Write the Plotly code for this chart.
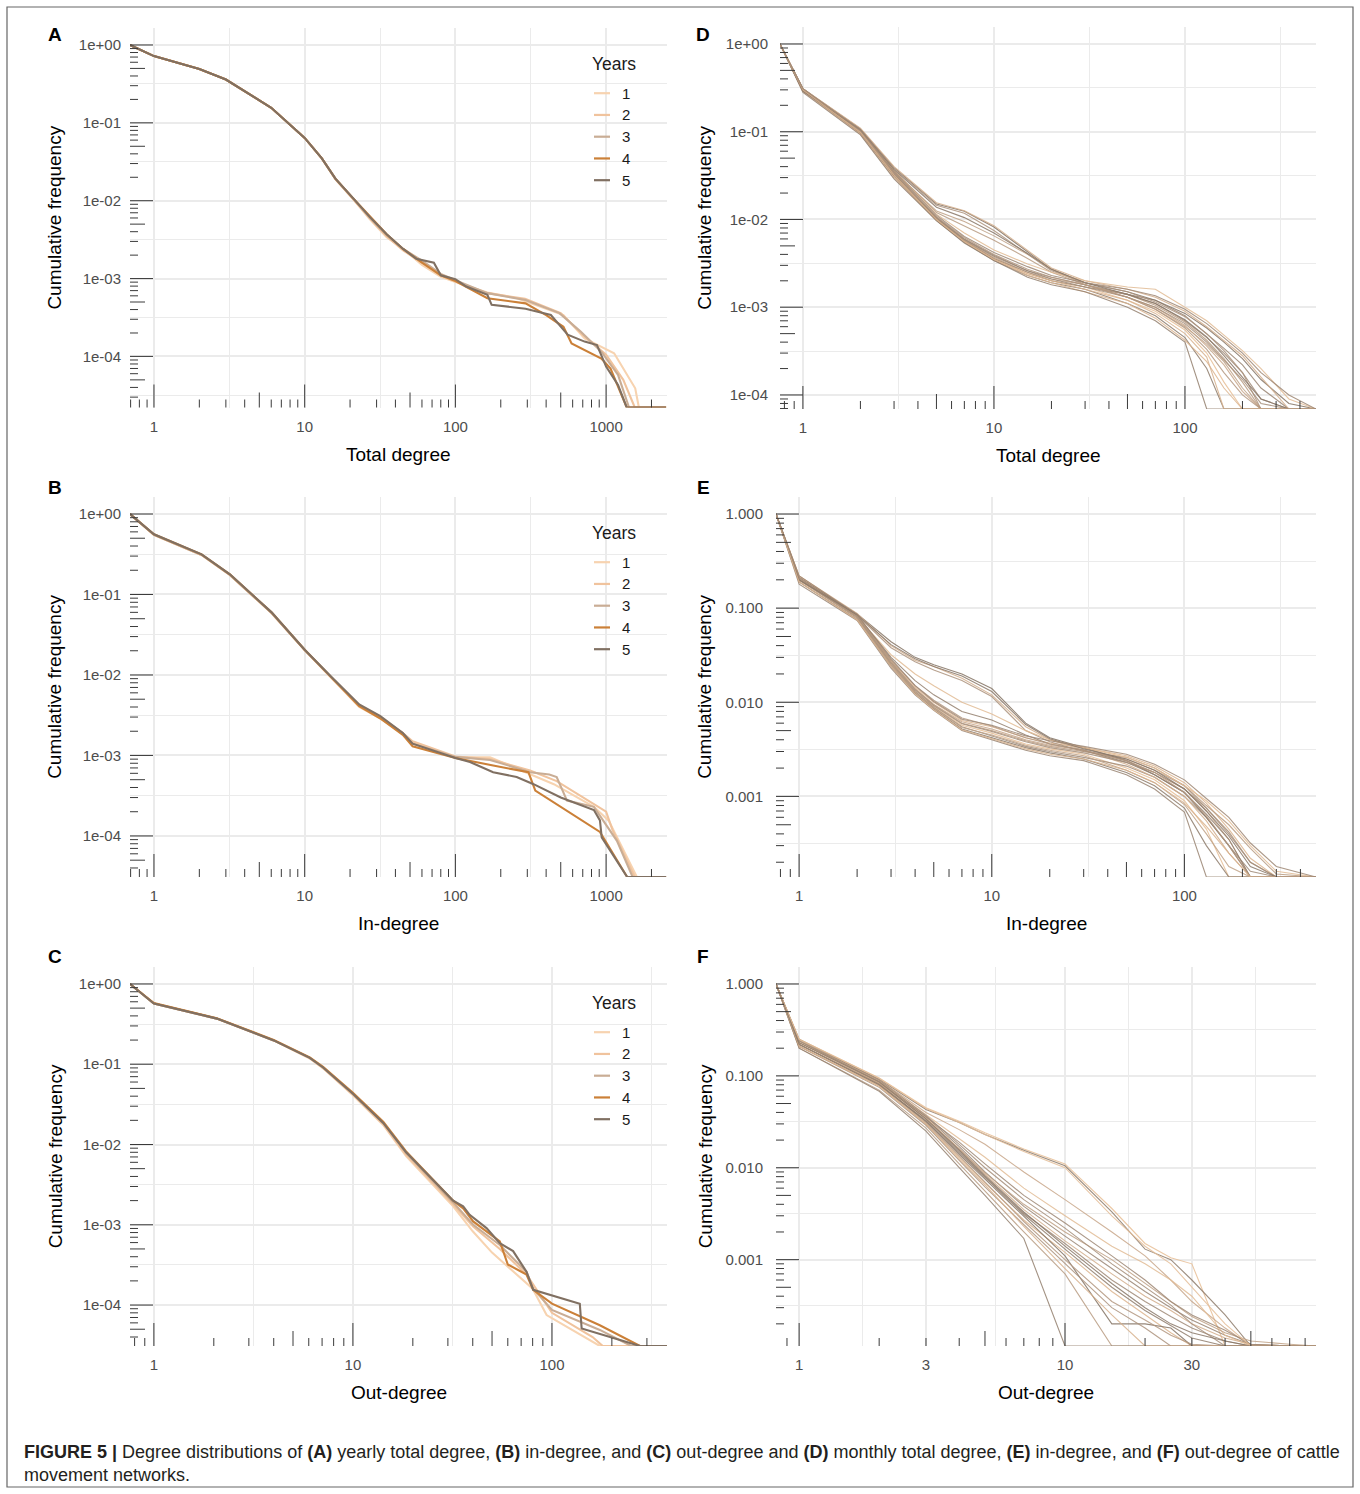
import math
import plotly.graph_objects as go

W, H = 1360, 1494
FONT = "Liberation Sans, Arial, Helvetica, sans-serif"

# ------------------------------------------------------------------ data
# degree 0 / cumulative frequency 0 are drawn at the panel edge (ggplot -Inf)
YEAR_LABELS = ["1", "2", "3", "4", "5"]
YEAR_COLORS = ["#F7D3B0", "#F0C39D", "#C9AD95", "#CB8038", "#807062"]

# (A) yearly total degree
A_DEG = [
    [0, 1, 2, 3, 6, 8, 10, 13, 16, 21, 27, 35, 45, 60, 80, 100, 163, 257, 521, 720, 1130, 1560, 1650, 2500],
    [0, 1, 2, 3, 6, 8, 10, 13, 16, 21, 27, 35, 45, 60, 80, 100, 163, 290, 500, 700, 1000, 1300, 1550, 2500],
    [0, 1, 2, 3, 6, 8, 10, 13, 16, 21, 27, 35, 45, 60, 80, 100, 163, 292, 490, 675, 930, 1200, 1420, 2500],
    [0, 1, 2, 3, 6, 8, 10, 13, 16, 21, 27, 35, 45, 60, 80, 100, 163, 292, 400, 521, 590, 930, 1070, 1370, 2500],
    [0, 1, 2, 3, 6, 8, 10, 13, 16, 21, 27, 35, 45, 55, 72, 80, 100, 118, 163, 174, 292, 430, 556, 720, 870, 1000, 1200, 1370, 2500],
]
A_CUM = [
    [1, 0.72, 0.49, 0.36, 0.156, 0.095, 0.064, 0.035, 0.0190, 0.0104, 0.0058, 0.0034, 0.0024, 0.0015, 0.00105, 0.00090, 0.00066, 0.00056, 0.00034, 0.00017, 0.000110, 0.000039, 0, 0],
    [1, 0.72, 0.49, 0.36, 0.156, 0.095, 0.064, 0.035, 0.0190, 0.0105, 0.0060, 0.0035, 0.0023, 0.0016, 0.00110, 0.00092, 0.00065, 0.00055, 0.00036, 0.00019, 0.000105, 0.000050, 0, 0],
    [1, 0.72, 0.49, 0.36, 0.156, 0.095, 0.064, 0.035, 0.0190, 0.0106, 0.0061, 0.0036, 0.0024, 0.0017, 0.00115, 0.00095, 0.00065, 0.00053, 0.00036, 0.00021, 0.000115, 0.000058, 0, 0],
    [1, 0.72, 0.49, 0.36, 0.156, 0.095, 0.064, 0.035, 0.0192, 0.0107, 0.0064, 0.0037, 0.0024, 0.0016, 0.00110, 0.00093, 0.00056, 0.00048, 0.00034, 0.00024, 0.000147, 0.000094, 0.000070, 0, 0],
    [1, 0.72, 0.49, 0.36, 0.156, 0.095, 0.064, 0.035, 0.0192, 0.0107, 0.0062, 0.0037, 0.0024, 0.0018, 0.0016, 0.00110, 0.00098, 0.00079, 0.00062, 0.00046, 0.00041, 0.00034, 0.00019, 0.000155, 0.00014, 0.000074, 0.000043, 0, 0],
]

# (B) yearly in-degree
B_DEG = [
    [0, 1, 2.07, 3.19, 6.03, 10, 15, 23, 31.6, 44.8, 52, 100, 170, 313, 450, 830, 1040, 1600, 2500],
    [0, 1, 2.07, 3.19, 6.03, 10, 15, 23, 31.6, 44.8, 52, 100, 170, 313, 470, 800, 1000, 1100, 1550, 2500],
    [0, 1, 2.07, 3.19, 6.03, 10, 15, 23, 31.6, 44.8, 52, 100, 170, 313, 420, 470, 550, 830, 1180, 1500, 2500],
    [0, 1, 2.07, 3.19, 6.03, 10, 15, 23, 31.6, 44.8, 52, 100, 178, 305, 339, 500, 910, 1380, 2500],
    [0, 1, 2.07, 3.19, 6.03, 10, 15, 23, 31.6, 44.8, 52, 100, 125, 178, 255, 330, 500, 830, 910, 935, 1380, 2500],
]
B_CUM = [
    [1, 0.55, 0.31, 0.175, 0.059, 0.0204, 0.0092, 0.0040, 0.0029, 0.0019, 0.00145, 0.00095, 0.00095, 0.00059, 0.00044, 0.00023, 0.000155, 0, 0],
    [1, 0.55, 0.31, 0.175, 0.059, 0.0204, 0.0093, 0.0041, 0.0030, 0.0019, 0.0015, 0.00097, 0.00090, 0.00065, 0.00048, 0.00026, 0.00020, 0.00012, 0, 0],
    [1, 0.55, 0.31, 0.175, 0.059, 0.0204, 0.0094, 0.0042, 0.0030, 0.0019, 0.0014, 0.00096, 0.00088, 0.00062, 0.00058, 0.00054, 0.000275, 0.00023, 0.000087, 0, 0],
    [1, 0.56, 0.315, 0.178, 0.060, 0.0206, 0.0094, 0.0041, 0.0029, 0.0018, 0.0013, 0.00093, 0.00075, 0.00062, 0.000366, 0.00023, 0.000112, 0, 0],
    [1, 0.56, 0.315, 0.178, 0.060, 0.0206, 0.0095, 0.0043, 0.0031, 0.0019, 0.0014, 0.00093, 0.00083, 0.00062, 0.00054, 0.00044, 0.00030, 0.00021, 0.000156, 0.000096, 0, 0],
]

# (C) yearly out-degree
C_DEG = [
    [0, 1, 2.07, 3.16, 4, 6.07, 7.08, 10, 14.2, 18.5, 25.3, 31.9, 40, 50, 80, 94, 174, 378],
    [0, 1, 2.07, 3.16, 4, 6.07, 7.08, 10, 14.2, 18.5, 25.3, 31.9, 40.2, 54.7, 74.5, 100, 160, 180, 378],
    [0, 1, 2.07, 3.16, 4, 6.07, 7.08, 10, 14.2, 18.5, 25.3, 31.9, 40.2, 54.7, 74.5, 80.5, 100, 174, 250, 378],
    [0, 1, 2.07, 3.16, 4, 6.07, 7.08, 10, 14.2, 18.5, 25.3, 31.9, 35.8, 40.2, 54.7, 60, 74.5, 80.5, 100, 174, 277, 378],
    [0, 1, 2.07, 3.16, 4, 6.07, 7.08, 10, 14.2, 18.5, 25.3, 31.9, 35.8, 38.6, 46.9, 54.7, 63.8, 74.5, 80.5, 138, 141, 277, 378],
]
C_CUM = [
    [1, 0.57, 0.37, 0.246, 0.198, 0.118, 0.089, 0.041, 0.0175, 0.0072, 0.0031, 0.0017, 0.00083, 0.00045, 0.00016, 0.000075, 0, 0],
    [1, 0.57, 0.37, 0.246, 0.198, 0.119, 0.090, 0.042, 0.0180, 0.0075, 0.0033, 0.0018, 0.00095, 0.00050, 0.00024, 0.000080, 0.000040, 0, 0],
    [1, 0.57, 0.37, 0.246, 0.198, 0.120, 0.091, 0.043, 0.0186, 0.0079, 0.0035, 0.0019, 0.0010, 0.00056, 0.00026, 0.00016, 0.000087, 0.000049, 0, 0],
    [1, 0.58, 0.375, 0.250, 0.200, 0.122, 0.093, 0.044, 0.0192, 0.0082, 0.0036, 0.0020, 0.0016, 0.0011, 0.00062, 0.00032, 0.00024, 0.000155, 0.000104, 0.000056, 0, 0],
    [1, 0.57, 0.37, 0.246, 0.198, 0.120, 0.091, 0.043, 0.0186, 0.0080, 0.0036, 0.0020, 0.0017, 0.00133, 0.00091, 0.00059, 0.00047, 0.00026, 0.000155, 0.000104, 0.000051, 0, 0],
]

# (D) monthly total degree: common degree grid, one list per month shown
D_DEG = [0, 1, 2, 3, 5, 7, 10, 15, 20, 30, 50, 70, 100, 130, 160, 200, 250, 350, 485]
D_CUM = [
    [1, 0.30, 0.100, 0.033, 0.0100, 0.0057, 0.0036, 0.0024, 0.0020, 0.0017, 0.0012, 0.00090, 0.00055, 0.00030, 0.00014, 0, 0, 0, 0],
    [1, 0.29, 0.096, 0.031, 0.0097, 0.0055, 0.0034, 0.0023, 0.0019, 0.0016, 0.0011, 0.00080, 0.00045, 0.00020, 0, 0, 0, 0, 0],
    [1, 0.30, 0.098, 0.032, 0.0102, 0.0058, 0.0037, 0.0025, 0.0021, 0.0018, 0.0013, 0.00100, 0.00062, 0.00036, 0.00022, 0.00011, 0, 0, 0],
    [1, 0.31, 0.102, 0.034, 0.0106, 0.0060, 0.0039, 0.0026, 0.0022, 0.0018, 0.0014, 0.00110, 0.00070, 0.00045, 0.00030, 0.00018, 0.00009, 0, 0],
    [1, 0.29, 0.094, 0.030, 0.0099, 0.0056, 0.0035, 0.0023, 0.0019, 0.0015, 0.0011, 0.00075, 0.00042, 0.00024, 0.00012, 0, 0, 0, 0],
    [1, 0.30, 0.099, 0.033, 0.0104, 0.0059, 0.0038, 0.0026, 0.0021, 0.0017, 0.0014, 0.00120, 0.00080, 0.00050, 0.00034, 0.00022, 0.00012, 0, 0],
    [1, 0.30, 0.104, 0.036, 0.0120, 0.0085, 0.0058, 0.0036, 0.0025, 0.0018, 0.0014, 0.00105, 0.00068, 0.00042, 0.00026, 0.00014, 0, 0, 0],
    [1, 0.31, 0.108, 0.039, 0.0150, 0.0124, 0.0082, 0.0043, 0.0027, 0.0019, 0.0015, 0.00120, 0.00085, 0.00058, 0.00040, 0.00026, 0.00015, 0.00008, 0],
    [1, 0.31, 0.110, 0.040, 0.0155, 0.0126, 0.0085, 0.0044, 0.0028, 0.0020, 0.0016, 0.00130, 0.00090, 0.00060, 0.00042, 0.00028, 0.00016, 0, 0],
    [1, 0.30, 0.106, 0.038, 0.0145, 0.0118, 0.0075, 0.0040, 0.0026, 0.0019, 0.0015, 0.00115, 0.00078, 0.00050, 0.00032, 0.00018, 0, 0, 0],
    [1, 0.30, 0.103, 0.036, 0.0115, 0.0070, 0.0045, 0.0031, 0.0025, 0.0020, 0.0017, 0.00160, 0.00100, 0.00070, 0.00048, 0.00032, 0.00020, 0.00009, 0],
    [1, 0.28, 0.092, 0.029, 0.0097, 0.0054, 0.0034, 0.0022, 0.0018, 0.0015, 0.0010, 0.00070, 0.00040, 0, 0, 0, 0, 0, 0],
    [1, 0.29, 0.101, 0.035, 0.0125, 0.0095, 0.0065, 0.0040, 0.0027, 0.0018, 0.0013, 0.00095, 0.00060, 0.00038, 0.00024, 0.00012, 0, 0, 0],
    [1, 0.30, 0.097, 0.032, 0.0101, 0.0057, 0.0036, 0.0025, 0.0020, 0.0017, 0.0013, 0.00100, 0.00065, 0.00040, 0.00025, 0.00015, 0.00008, 0, 0],
    [1, 0.30, 0.100, 0.034, 0.0108, 0.0062, 0.0040, 0.0027, 0.0022, 0.0018, 0.0013, 0.00095, 0.00058, 0.00033, 0.00018, 0.00010, 0, 0, 0],
    [1, 0.29, 0.105, 0.037, 0.0138, 0.0105, 0.0070, 0.0041, 0.0027, 0.0019, 0.0014, 0.00110, 0.00072, 0.00046, 0.00028, 0.00016, 0.00009, 0, 0],
    [1, 0.30, 0.098, 0.032, 0.0100, 0.0056, 0.0035, 0.0024, 0.0020, 0.0016, 0.0012, 0.00085, 0.00050, 0.00027, 0, 0, 0, 0, 0],
    [1, 0.31, 0.104, 0.035, 0.0112, 0.0064, 0.0042, 0.0029, 0.0023, 0.0019, 0.0016, 0.00135, 0.00095, 0.00065, 0.00045, 0.00030, 0.00018, 0.00010, 0],
]

# (E) monthly in-degree
E_DEG = [0, 1, 2, 3, 4, 5, 7, 10, 15, 20, 30, 50, 70, 100, 130, 170, 220, 300, 482]
E_CUM = [
    [1, 0.20, 0.080, 0.026, 0.0130, 0.0090, 0.0057, 0.0047, 0.0036, 0.0032, 0.0028, 0.0020, 0.0015, 0.00090, 0.00045, 0, 0, 0, 0],
    [1, 0.19, 0.076, 0.024, 0.0125, 0.0085, 0.0052, 0.0042, 0.0033, 0.0029, 0.0025, 0.0018, 0.0013, 0.00075, 0.00030, 0, 0, 0, 0],
    [1, 0.21, 0.082, 0.027, 0.0140, 0.0095, 0.0062, 0.0052, 0.0040, 0.0035, 0.0031, 0.0024, 0.0018, 0.0012, 0.00070, 0.00035, 0, 0, 0],
    [1, 0.20, 0.079, 0.025, 0.0130, 0.0088, 0.0055, 0.0044, 0.0034, 0.0030, 0.0026, 0.0021, 0.0016, 0.0010, 0.00060, 0.00030, 0.00016, 0, 0],
    [1, 0.22, 0.085, 0.028, 0.0145, 0.0100, 0.0064, 0.0055, 0.0042, 0.0037, 0.0033, 0.0027, 0.0021, 0.0014, 0.00085, 0.00045, 0.00022, 0, 0],
    [1, 0.18, 0.074, 0.023, 0.0120, 0.0082, 0.0050, 0.0040, 0.0031, 0.0027, 0.0024, 0.0017, 0.0012, 0.00068, 0, 0, 0, 0, 0],
    [1, 0.21, 0.083, 0.027, 0.0138, 0.0094, 0.0060, 0.0050, 0.0039, 0.0034, 0.0030, 0.0025, 0.0019, 0.0013, 0.00080, 0.00050, 0.00028, 0.00015, 0],
    [1, 0.21, 0.087, 0.044, 0.030, 0.025, 0.020, 0.0140, 0.0060, 0.0042, 0.0033, 0.0024, 0.0017, 0.0011, 0.00060, 0.00030, 0, 0, 0],
    [1, 0.22, 0.088, 0.040, 0.028, 0.024, 0.018, 0.0120, 0.0055, 0.0040, 0.0031, 0.0022, 0.0016, 0.0010, 0.00055, 0.00025, 0, 0, 0],
    [1, 0.20, 0.084, 0.038, 0.027, 0.022, 0.017, 0.0115, 0.0050, 0.0038, 0.0030, 0.0026, 0.0020, 0.0013, 0.00075, 0.00040, 0.00020, 0, 0],
    [1, 0.20, 0.081, 0.032, 0.020, 0.015, 0.0100, 0.0075, 0.0050, 0.0040, 0.0033, 0.0026, 0.0020, 0.0013, 0.00090, 0.00055, 0.00030, 0.00016, 0],
    [1, 0.21, 0.083, 0.030, 0.017, 0.012, 0.0080, 0.0065, 0.0045, 0.0036, 0.0031, 0.0023, 0.0017, 0.0011, 0.00065, 0.00035, 0, 0, 0],
    [1, 0.19, 0.077, 0.025, 0.0128, 0.0087, 0.0054, 0.0045, 0.0035, 0.0031, 0.0027, 0.0019, 0.0014, 0.00082, 0.00040, 0.00018, 0, 0, 0],
    [1, 0.20, 0.081, 0.026, 0.0135, 0.0092, 0.0059, 0.0049, 0.0038, 0.0033, 0.0029, 0.0023, 0.0018, 0.0012, 0.00075, 0.00042, 0.00020, 0, 0],
    [1, 0.21, 0.082, 0.028, 0.0150, 0.0105, 0.0068, 0.0056, 0.0042, 0.0036, 0.0031, 0.0024, 0.0018, 0.0011, 0.00062, 0.00030, 0, 0, 0],
    [1, 0.20, 0.085, 0.041, 0.029, 0.024, 0.019, 0.0130, 0.0058, 0.0041, 0.0032, 0.0025, 0.0019, 0.0012, 0.00070, 0.00038, 0.00018, 0, 0],
    [1, 0.19, 0.075, 0.024, 0.0122, 0.0083, 0.0051, 0.0041, 0.0032, 0.0028, 0.0025, 0.0019, 0.0014, 0.00085, 0.00048, 0.00025, 0, 0, 0],
    [1, 0.22, 0.086, 0.029, 0.0150, 0.0102, 0.0066, 0.0057, 0.0044, 0.0039, 0.0034, 0.0028, 0.0022, 0.0015, 0.00095, 0.00060, 0.00032, 0.00018, 0],
]

# (F) monthly out-degree
F_DEG = [0, 1, 2, 3, 4, 5, 7, 10, 15, 20, 25, 30, 40, 50, 70, 88]
F_CUM = [
    [1, 0.25, 0.095, 0.045, 0.032, 0.024, 0.016, 0.011, 0.0036, 0.0015, 0.00105, 0.00090, 0, 0, 0, 0],
    [1, 0.24, 0.092, 0.043, 0.031, 0.023, 0.0155, 0.0105, 0.0033, 0.0013, 0.00100, 0.00060, 0.00025, 0, 0, 0],
    [1, 0.23, 0.090, 0.040, 0.026, 0.018, 0.0090, 0.0045, 0.0020, 0.0011, 0.00060, 0.00035, 0.00018, 0, 0, 0],
    [1, 0.22, 0.080, 0.033, 0.015, 0.0080, 0.0032, 0.0015, 0.00060, 0.00035, 0.00024, 0.00018, 0.00013, 0, 0, 0],
    [1, 0.21, 0.078, 0.030, 0.013, 0.0068, 0.0027, 0.0012, 0.00045, 0.00025, 0.00016, 0, 0, 0, 0, 0],
    [1, 0.24, 0.085, 0.036, 0.017, 0.0090, 0.0038, 0.0018, 0.00080, 0.00045, 0.00030, 0.00022, 0.00015, 0.00012, 0, 0],
    [1, 0.20, 0.070, 0.027, 0.011, 0.0056, 0.0020, 0.00070, 0, 0, 0, 0, 0, 0, 0, 0],
    [1, 0.22, 0.082, 0.032, 0.014, 0.0075, 0.0030, 0.0011, 0.00020, 0.00020, 0.00018, 0, 0, 0, 0, 0],
    [1, 0.23, 0.084, 0.035, 0.016, 0.0085, 0.0035, 0.0016, 0.00070, 0.00040, 0.00028, 0.00020, 0.00014, 0.00012, 0, 0],
    [1, 0.21, 0.075, 0.029, 0.012, 0.0062, 0.0024, 0.00090, 0.00030, 0.00018, 0, 0, 0, 0, 0, 0],
    [1, 0.24, 0.088, 0.038, 0.021, 0.013, 0.0060, 0.0030, 0.0014, 0.00090, 0.00060, 0.00040, 0.00015, 0, 0, 0],
    [1, 0.20, 0.068, 0.025, 0.010, 0.0050, 0.0017, 0, 0, 0, 0, 0, 0, 0, 0, 0],
    [1, 0.22, 0.083, 0.034, 0.016, 0.0088, 0.0040, 0.0020, 0.00100, 0.00055, 0.00035, 0.00024, 0.00016, 0.00013, 0.00012, 0],
    [1, 0.25, 0.090, 0.037, 0.018, 0.0100, 0.0045, 0.0022, 0.00090, 0.00050, 0.00032, 0.00020, 0, 0, 0, 0],
    [1, 0.22, 0.081, 0.031, 0.0135, 0.0070, 0.0026, 0.0010, 0.00035, 0.00022, 0.00015, 0.00012, 0, 0, 0, 0],
    [1, 0.23, 0.086, 0.034, 0.0155, 0.0082, 0.0033, 0.0014, 0.00055, 0.00030, 0.00020, 0.00016, 0.00013, 0, 0, 0],
    [1, 0.21, 0.077, 0.030, 0.0125, 0.0065, 0.0023, 0.0008, 0.00025, 0, 0, 0, 0, 0, 0, 0],
    [1, 0.24, 0.087, 0.036, 0.019, 0.0110, 0.0050, 0.0025, 0.0011, 0.00060, 0.00035, 0.00025, 0.00017, 0.00012, 0, 0],
    [1, 0.25, 0.094, 0.044, 0.031, 0.023, 0.0150, 0.0100, 0.0030, 0.0014, 0.00090, 0.00050, 0.00020, 0, 0, 0],
    [1, 0.22, 0.080, 0.032, 0.0145, 0.0078, 0.0031, 0.0013, 0.00050, 0.00028, 0.00019, 0.00014, 0, 0, 0, 0],
]

# axis breaks / labels
Y_SCI_VALS = [1, 0.1, 0.01, 0.001, 0.0001]
Y_SCI_TEXT = ["1e+00", "1e-01", "1e-02", "1e-03", "1e-04"]
Y_FIX_VALS = [1, 0.1, 0.01, 0.001]
Y_FIX_TEXT = ["1.000", "0.100", "0.010", "0.001"]
X_AB_VALS = [1, 10, 100, 1000]
X_C_VALS = [1, 10, 100]
X_DE_VALS = [1, 10, 100]
X_F_VALS = [1, 3, 10, 30]

MONTH_COLORS = ["#E8BF96", "#8E7C6B", "#C9A78A", "#A08A77", "#DDB58F", "#9A8573", "#B99C82",
                "#857464", "#D3AE8C", "#AD937D", "#E2BC95", "#94806F", "#C0A286", "#A68E79",
                "#B49880", "#8A7868", "#D8B28E", "#9F8875", "#E5BE98", "#917E6D"]

CAPTION_1 = ("<b>FIGURE 5 |</b> Degree distributions of <b>(A)</b> yearly total degree, <b>(B)</b> in-degree, "
             "and <b>(C)</b> out-degree and <b>(D)</b> monthly total degree, <b>(E)</b> in-degree, and "
             "<b>(F)</b> out-degree of cattle")
CAPTION_2 = "movement networks."

# ------------------------------------------------------------------ layout
# panel boxes in pixels: left, right, top, bottom ; ranges in log10
PANELS = [
    dict(tag="A", deg=A_DEG, cum=A_CUM, yearly=True, box=(130, 667, 27.7, 407.5), letter=(55, 35),
         xr=(-0.159, 3.404), yr=(-4.656, 0.222), xt=X_AB_VALS, yt=Y_SCI_VALS, ytt=Y_SCI_TEXT,
         xtitle="Total degree", ystand=8),
    dict(tag="B", deg=B_DEG, cum=B_CUM, yearly=True, box=(130, 667, 496.7, 877), letter=(55, 487),
         xr=(-0.159, 3.404), yr=(-4.51, 0.215), xt=X_AB_VALS, yt=Y_SCI_VALS, ytt=Y_SCI_TEXT,
         xtitle="In-degree", ystand=8),
    dict(tag="C", deg=C_DEG, cum=C_CUM, yearly=True, box=(130, 667, 966.7, 1346), letter=(55, 956),
         xr=(-0.12, 2.578), yr=(-4.51, 0.215), xt=X_C_VALS, yt=Y_SCI_VALS, ytt=Y_SCI_TEXT,
         xtitle="Out-degree", ystand=8),
    dict(tag="D", deg=D_DEG, cum=D_CUM, yearly=False, box=(780, 1316, 26.6, 409), letter=(703, 35),
         xr=(-0.12, 2.686), yr=(-4.16, 0.198), xt=X_DE_VALS, yt=Y_SCI_VALS, ytt=Y_SCI_TEXT,
         xtitle="Total degree", ystand=11),
    dict(tag="E", deg=E_DEG, cum=E_CUM, yearly=False, box=(776, 1316, 496.7, 877), letter=(703, 487),
         xr=(-0.12, 2.683), yr=(-3.856, 0.184), xt=X_DE_VALS, yt=Y_FIX_VALS, ytt=Y_FIX_TEXT,
         xtitle="In-degree", ystand=12),
    dict(tag="F", deg=F_DEG, cum=F_CUM, yearly=False, box=(776, 1316, 966.7, 1346), letter=(703, 956),
         xr=(-0.087, 1.944), yr=(-3.94, 0.188), xt=X_F_VALS, yt=Y_FIX_VALS, ytt=Y_FIX_TEXT,
         xtitle="Out-degree", ystand=12),
]

GRID = "#EBEBEB"
TICK_COLOR = "#3A3A3A"
LABEL_COLOR = "#4D4D4D"


def px_x(p):
    return p / W


def px_y(p):
    return 1 - p / H


def edge(vals, lo):
    """ggplot draws log10(0) = -Inf at the panel edge."""
    return [10 ** lo if v == 0 else v for v in vals]


def minor_vals(majors, rng):
    lg = sorted(math.log10(v) for v in majors)
    mids = [(a + b) / 2 for a, b in zip(lg, lg[1:])]
    mids = [lg[0] - (lg[1] - lg[0]) / 2] + mids + [lg[-1] + (lg[-1] - lg[-2]) / 2]
    return [10 ** m for m in mids if rng[0] <= m <= rng[1]]


def fmt_x(v):
    return str(int(v))


fig = go.Figure()
layout = dict(width=W, height=H, margin=dict(l=0, r=0, t=0, b=0),
              paper_bgcolor="white", plot_bgcolor="white", showlegend=False,
              hovermode=False, font=dict(family=FONT, color="#000000"))
shapes = []
annotations = []

for i, p in enumerate(PANELS, start=1):
    l, r, t, b = p["box"]
    wpx, hpx = r - l, b - t
    xs = "" if i == 1 else str(i)
    xref, yref = "x" + xs, "y" + xs

    xaxis = dict(type="log", range=list(p["xr"]), domain=[px_x(l), px_x(r)], anchor=yref,
                 tickmode="array", tickvals=p["xt"], ticktext=[fmt_x(v) for v in p["xt"]],
                 showgrid=True, gridcolor=GRID, gridwidth=1.6, zeroline=False, showline=False,
                 ticks="", ticklabelstandoff=8,
                 tickfont=dict(family=FONT, size=15, color=LABEL_COLOR),
                 minor=dict(tickmode="array", tickvals=minor_vals(p["xt"], p["xr"]),
                            showgrid=True, gridcolor=GRID, gridwidth=0.9, ticks=""),
                 fixedrange=True)
    yaxis = dict(type="log", range=list(p["yr"]), domain=[px_y(b), px_y(t)], anchor=xref,
                 tickmode="array", tickvals=p["yt"], ticktext=p["ytt"],
                 showgrid=True, gridcolor=GRID, gridwidth=1.6, zeroline=False, showline=False,
                 ticks="", ticklabelstandoff=p["ystand"],
                 tickfont=dict(family=FONT, size=15, color=LABEL_COLOR),
                 minor=dict(tickmode="array", tickvals=minor_vals(p["yt"], p["yr"]),
                            showgrid=True, gridcolor=GRID, gridwidth=0.9, ticks=""),
                 fixedrange=True)
    layout["xaxis" + xs] = xaxis
    layout["yaxis" + xs] = yaxis

    # data lines
    if p["yearly"]:
        for k, (dx, cy) in enumerate(zip(p["deg"], p["cum"])):
            fig.add_trace(go.Scatter(
                x=edge(dx, p["xr"][0]), y=edge(cy, p["yr"][0]), mode="lines",
                line=dict(color=YEAR_COLORS[k], width=2.1), name=YEAR_LABELS[k],
                xaxis=xref, yaxis=yref, showlegend=False, hoverinfo="skip"))
    else:
        for k, cy in enumerate(p["cum"]):
            fig.add_trace(go.Scatter(
                x=edge(p["deg"], p["xr"][0]), y=edge(cy, p["yr"][0]), mode="lines",
                line=dict(color=MONTH_COLORS[k % len(MONTH_COLORS)], width=1.1), opacity=0.85,
                xaxis=xref, yaxis=yref, showlegend=False, hoverinfo="skip"))

    # annotation_logticks (left and bottom)
    for d in range(math.floor(p["yr"][0]), math.ceil(p["yr"][1]) + 1):
        for m in range(1, 10):
            lv = math.log10(m) + d
            if p["yr"][0] <= lv <= p["yr"][1]:
                ln = 23 if m == 1 else (15 if m == 5 else 8)
                shapes.append(dict(type="line", xref=xref + " domain", yref=yref,
                                   x0=0, x1=ln / wpx, y0=m * 10 ** d, y1=m * 10 ** d,
                                   line=dict(color=TICK_COLOR, width=1)))
    for d in range(math.floor(p["xr"][0]), math.ceil(p["xr"][1]) + 1):
        for m in range(1, 10):
            lv = math.log10(m) + d
            if p["xr"][0] <= lv <= p["xr"][1]:
                ln = 23 if m == 1 else (15 if m == 5 else 8)
                shapes.append(dict(type="line", xref=xref, yref=yref + " domain",
                                   x0=m * 10 ** d, x1=m * 10 ** d, y0=0, y1=ln / hpx,
                                   line=dict(color=TICK_COLOR, width=1)))

    # panel letter
    lx, ly = p["letter"]
    annotations.append(dict(text="<b>%s</b>" % p["tag"], x=px_x(lx), y=px_y(ly),
                            xref="paper", yref="paper", showarrow=False, xanchor="center",
                            yanchor="middle", font=dict(family=FONT, size=19, color="#000000")))
    # axis titles
    ytitle_x = 55 if l < 400 else 705
    annotations.append(dict(text="Cumulative frequency", x=px_x(ytitle_x), y=px_y((t + b) / 2),
                            xref="paper", yref="paper", showarrow=False, textangle=-90,
                            xanchor="center", yanchor="middle",
                            font=dict(family=FONT, size=19, color="#000000")))
    annotations.append(dict(text=p["xtitle"], x=px_x((l + r) / 2), y=px_y(b + 46.5),
                            xref="paper", yref="paper", showarrow=False,
                            xanchor="center", yanchor="middle",
                            font=dict(family=FONT, size=19, color="#000000")))

    # manual legend for yearly panels
    if p["yearly"]:
        title_y = t + 36.5
        annotations.append(dict(text="Years", x=px_x(614), y=px_y(title_y), xref="paper",
                                yref="paper", showarrow=False, xanchor="center",
                                yanchor="middle", font=dict(family=FONT, size=17.5, color="#1A1A1A")))
        for k, lab in enumerate(YEAR_LABELS):
            iy = title_y + 29 + k * 21.75
            shapes.append(dict(type="line", xref="paper", yref="paper",
                               x0=px_x(594), x1=px_x(610), y0=px_y(iy), y1=px_y(iy),
                               line=dict(color=YEAR_COLORS[k], width=2.2)))
            annotations.append(dict(text=lab, x=px_x(620), y=px_y(iy), xref="paper",
                                    yref="paper", showarrow=False, xanchor="left",
                                    yanchor="middle",
                                    font=dict(family=FONT, size=15, color="#1A1A1A")))

# caption and frame
annotations.append(dict(text=CAPTION_1, x=px_x(22), y=px_y(1452), xref="paper", yref="paper",
                        showarrow=False, xanchor="left", yanchor="middle",
                        font=dict(family=FONT, size=18, color="#231F20")))
annotations.append(dict(text=CAPTION_2, x=px_x(22), y=px_y(1475), xref="paper", yref="paper",
                        showarrow=False, xanchor="left", yanchor="middle",
                        font=dict(family=FONT, size=18, color="#231F20")))
shapes.append(dict(type="rect", xref="paper", yref="paper", x0=px_x(7), x1=px_x(1353),
                   y0=px_y(1487), y1=px_y(7), line=dict(color="#666666", width=1.2),
                   fillcolor="rgba(0,0,0,0)", layer="above"))

layout["shapes"] = shapes
layout["annotations"] = annotations
fig.update_layout(**layout)
fig.write_html("out.html")
